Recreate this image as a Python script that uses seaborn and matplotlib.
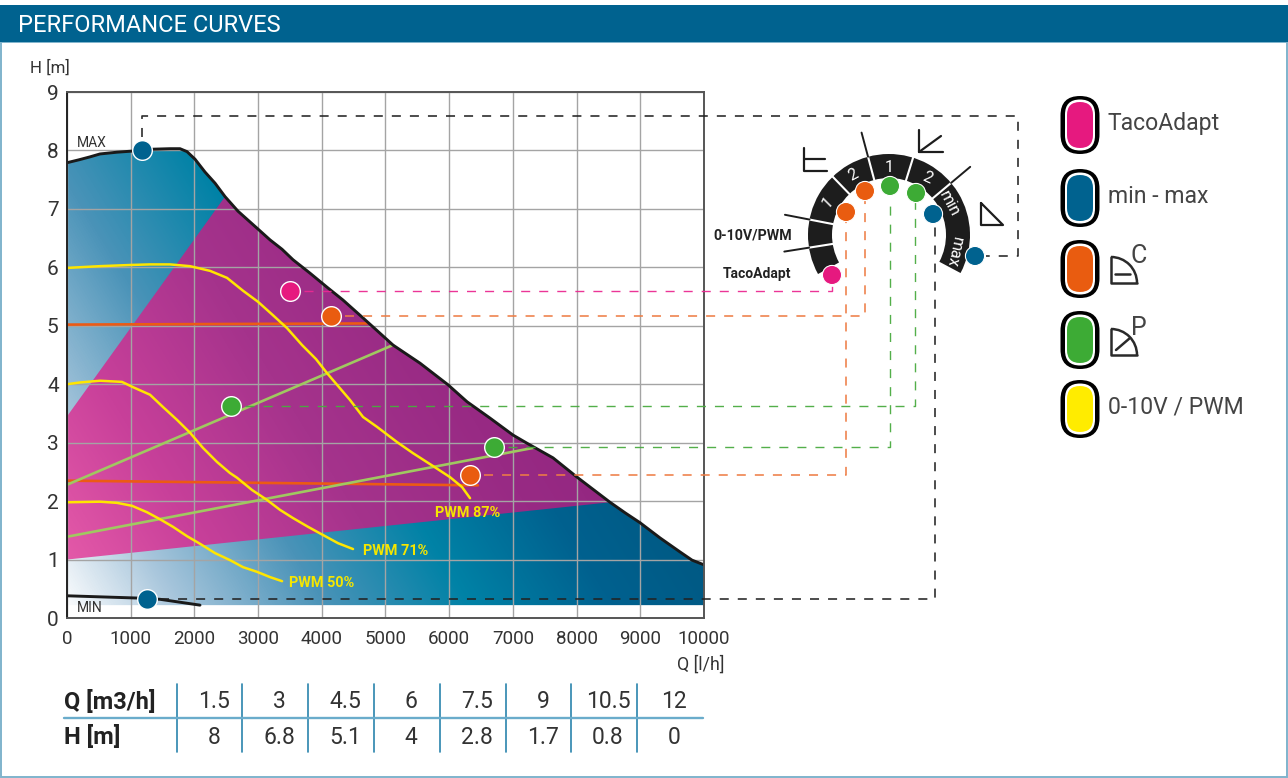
import numpy as np
import matplotlib
matplotlib.use("Agg")
import matplotlib.pyplot as plt
import seaborn as sns
from matplotlib.colors import LinearSegmentedColormap
from matplotlib.patches import FancyBboxPatch, PathPatch, Rectangle, Wedge, Arc
from matplotlib.path import Path

# -------- DATA --------
max_q = [0, 188, 361, 518, 785, 1036, 1300, 1617, 1774, 1884, 2010, 2167, 2324, 2481, 2685, 2983, 3187, 3375, 3548, 3815,
         4082, 4333, 4600, 4804, 5118, 5542, 5982, 6280, 6641, 7002, 7222, 7630, 8007, 8525, 8761, 8996, 9310, 9624, 9812, 10000]
max_h = [7.79, 7.84, 7.89, 7.94, 7.97, 7.99, 8.02, 8.03, 8.03, 7.98, 7.85, 7.63, 7.44, 7.21, 6.96, 6.67, 6.47, 6.31, 6.13, 5.90,
         5.66, 5.44, 5.18, 4.98, 4.67, 4.36, 3.99, 3.70, 3.42, 3.13, 2.99, 2.74, 2.41, 1.98, 1.80, 1.63, 1.37, 1.13, 0.99, 0.91]
min_q = [0, 1146, 1460, 2088]
min_h = [0.38, 0.34, 0.32, 0.22]
floor_h = 0.22

pwm87_q = [0, 518, 989, 1300, 1617, 1931, 2245, 2512, 2763, 2999, 3234, 3454, 3690, 3909, 4082, 4443, 4647, 4867, 5181, 5432, 5746, 6013, 6202, 6327]
pwm87_h = [5.99, 6.02, 6.04, 6.05, 6.05, 6.02, 5.94, 5.82, 5.60, 5.41, 5.18, 4.96, 4.67, 4.43, 4.19, 3.73, 3.44, 3.27, 3.01, 2.82, 2.60, 2.41, 2.24, 2.05]
pwm71_q = [0, 204, 518, 863, 1036, 1303, 1507, 1727, 1931, 2135, 2355, 2559, 2669, 2905, 3140, 3344, 3548, 3784, 4019, 4255, 4490]
pwm71_h = [4.00, 4.03, 4.06, 4.04, 3.95, 3.82, 3.61, 3.39, 3.17, 2.91, 2.67, 2.48, 2.40, 2.19, 2.02, 1.85, 1.71, 1.56, 1.42, 1.28, 1.18]
pwm50_q = [0, 518, 785, 1020, 1256, 1460, 1664, 1884, 2088, 2324, 2559, 2763, 2983, 3187, 3376]
pwm50_h = [1.98, 1.99, 1.97, 1.92, 1.81, 1.69, 1.56, 1.40, 1.27, 1.11, 0.99, 0.87, 0.79, 0.70, 0.63]

orange_lines = [([0, 4710], [5.02, 5.04]), ([0, 6450], [2.35, 2.27])]
green_lines = [([0, 5118], [2.28, 4.67]), ([0, 7316], [1.39, 2.91])]

pink_q = [3500]
pink_h = [5.6]
orange_q = [4150, 6330]
orange_h = [5.17, 2.45]
green_q = [2570, 6700]
green_h = [3.63, 2.93]
blue_q = [1180, 1260]
blue_h = [8.0, 0.33]

x_ticks = [0, 1000, 2000, 3000, 4000, 5000, 6000, 7000, 8000, 9000, 10000]
y_ticks = [0, 1, 2, 3, 4, 5, 6, 7, 8, 9]

table_q = ["1.5", "3", "4.5", "6", "7.5", "9", "10.5", "12"]
table_h = ["8", "6.8", "5.1", "4", "2.8", "1.7", "0.8", "0"]

legend_names = ["TacoAdapt", "min - max", "", "", "0-10V / PWM"]
legend_colors = ["#e6197f", "#00628f", "#e95c10", "#3dab35", "#ffec00"]

# -------- SETUP --------
sns.set_theme(style="white")
plt.rcParams['font.family'] = ['Roboto', 'DejaVu Sans']
plt.rcParams['lines.scale_dashes'] = False

TXT = "#333333"
YELLOW = "#ffe600"
ORANGE = "#ec5a14"
LINE_GREEN = "#a0c860"

fig = plt.figure(figsize=(12.88, 7.78), dpi=100, facecolor="white")
ax = fig.add_axes([67 / 1288, (778 - 618) / 778, 637 / 1288, 526 / 778])
ov = fig.add_axes([0, 0, 1, 1], zorder=5)
ov.set_xlim(0, 1288)
ov.set_ylim(778, 0)
ov.axis("off")

ax.set_xlim(0, 10000)
ax.set_ylim(0, 9)

# -------- GRADIENT AREAS --------
xs, ys = np.meshgrid(np.linspace(0, 637, 640), np.linspace(0, 526, 530))
grad = xs * 0.85 + ys * 0.52


def stops(pairs):
    return LinearSegmentedColormap.from_list("g", [(a / 560, c) for a, c in pairs])


blue_cmap = stops([(0, "#ffffff"), (100, "#a8c6dc"), (226, "#4a93b8"), (350, "#0082a6"), (470, "#00618f"), (560, "#005a85")])
pink_cmap = stops([(0, "#ea5fac"), (150, "#c8409a"), (300, "#a5338c"), (450, "#982a84"), (560, "#922680")])

blue_verts = list(zip(max_q, max_h)) + [(10000, floor_h), (0, floor_h)]
top_part = [(q, h) for q, h in zip(max_q, max_h) if 2481 <= q <= 8525]
pink_verts = [(0, 3.45)] + top_part + [(0, 1.0)]

for verts, cmap in [(blue_verts, blue_cmap), (pink_verts, pink_cmap)]:
    im = ax.imshow(grad, cmap=cmap, vmin=0, vmax=560, extent=(0, 10000, 0, 9), origin="lower", aspect="auto", zorder=1)
    clip = PathPatch(Path(verts + [verts[0]]), transform=ax.transData, fc="none", ec="none")
    im.set_clip_path(clip)

ax.set_xlim(0, 10000)
ax.set_ylim(0, 9)
ax.set_xticks(x_ticks)
ax.set_yticks(y_ticks)
ax.set_axisbelow(False)
ax.grid(True, color="#a4a4a4", lw=1.0)
ax.tick_params(length=0, labelsize=13.5, labelcolor=TXT, pad=9)
ax.tick_params(axis="y", pad=6, labelsize=15)
for side, sp in ax.spines.items():
    sp.set_color("#222222" if side == "left" else "#555555")
    sp.set_linewidth(1.4)
    sp.set_zorder(4)

# -------- CURVES --------
for qs, hs in orange_lines:
    sns.lineplot(x=qs, y=hs, ax=ax, color=ORANGE, lw=1.9, estimator=None, sort=False, legend=False, zorder=3)
for qs, hs in green_lines:
    sns.lineplot(x=qs, y=hs, ax=ax, color=LINE_GREEN, lw=1.9, estimator=None, sort=False, legend=False, zorder=3)
for qs, hs in [(pwm87_q, pwm87_h), (pwm71_q, pwm71_h), (pwm50_q, pwm50_h)]:
    sns.lineplot(x=qs, y=hs, ax=ax, color=YELLOW, lw=1.8, estimator=None, sort=False, legend=False, zorder=3.2)
sns.lineplot(x=max_q, y=max_h, ax=ax, color="#1a1a1a", lw=2.1, estimator=None, sort=False, legend=False, zorder=3.4)
sns.lineplot(x=min_q, y=min_h, ax=ax, color="#1a1a1a", lw=2.1, estimator=None, sort=False, legend=False, zorder=3.4)

for qs, hs, col in [(pink_q, pink_h, "#e6197f"), (orange_q, orange_h, "#e95c10"), (green_q, green_h, "#3dab35"), (blue_q, blue_h, "#00628f")]:
    sns.scatterplot(x=qs, y=hs, ax=ax, color=col, s=200, edgecolor="white", linewidth=1.0, zorder=4, legend=False, clip_on=False)

ax.set_xlim(0, 10000)
ax.set_ylim(0, 9)
ax.set_xlabel("")
ax.set_ylabel("")

ax.text(160, 8.13, "MAX", fontsize=10, color=TXT, va="center", zorder=4)
ax.text(160, 0.17, "MIN", fontsize=10, color=TXT, va="center", zorder=4)
for q, h, s in [(6296, 1.80, "PWM 87%"), (5166, 1.15, "PWM 71%"), (4003, 0.60, "PWM 50%")]:
    ax.text(q, h, s, color="#f5e600", fontsize=10.4, fontweight="bold", ha="center", va="center", zorder=4)


# -------- LEADER LINES --------
def to_px(q, h):
    x, y = ax.transData.transform((q, h))
    return x, 778 - y


def leader(xv, yv, col, lw=1.0, alpha=0.95):
    ov.plot(xv, yv, color=col, lw=lw, ls=(0, (6.5, 6.5)), alpha=alpha, zorder=1, solid_capstyle="butt")


px, py = to_px(pink_q[0], pink_h[0])
leader([px + 14, 832, 832], [py, py, 284], "#ea2a92")
for i, dx in enumerate([865, 846]):
    px, py = to_px(orange_q[i], orange_h[i])
    leader([px + 14, dx, dx], [py, py, 200 + 14 * i], "#ee7d45", 1.2)
for i, dx in enumerate([915, 890]):
    px, py = to_px(green_q[i], green_h[i])
    leader([px + 14, dx, dx], [py, py, 200], "#4aab40", 1.0)
px, py = to_px(blue_q[0], blue_h[0])
leader([px, px, 1018, 1018, 986], [py - 13, 116, 116, 256, 256], "#222222", 1.2)
px, py = to_px(blue_q[1], blue_h[1])
leader([px + 13, 935, 935], [py, py, 222], "#222222", 1.2)

# -------- HEADER, FRAME, AXIS TITLES --------
ov.add_patch(Rectangle((1, 42), 1286, 735, fc="none", ec="#7fb3cc", lw=1.4, zorder=0))
ov.add_patch(Rectangle((0, 5), 1288, 37, fc="#00628f", ec="none", zorder=1))
ov.text(18, 25, "PERFORMANCE CURVES", color="white", fontsize=17, va="center", ha="left", zorder=2)
ov.text(30, 68, "H [m]", color=TXT, fontsize=12.2, va="center", ha="left")
ov.text(725, 665, "Q [l/h]", color=TXT, fontsize=12.8, va="center", ha="right")

# -------- TABLE --------
grid_x = [177, 242, 308, 374, 440, 506, 571, 637]
for gx in grid_x:
    ov.plot([gx, gx], [684, 752], color="#2a84ad", lw=1.2, zorder=2)
ov.plot([64, 703], [718, 718], color="#6aaccb", lw=1.7, zorder=2)
ov.text(64, 702, "Q [m3/h]", color="#222222", fontsize=17, fontweight="bold", va="center")
ov.text(64, 737, "H [m]", color="#222222", fontsize=17, fontweight="bold", va="center")
for gx, qv, hv in zip(grid_x, table_q, table_h):
    ov.text(gx + 37, 702, qv, color=TXT, fontsize=16.5, ha="center", va="center")
    ov.text(gx + 37, 737, hv, color=TXT, fontsize=16.5, ha="center", va="center")

# -------- DIAL --------
cx, cy = 889, 235
ov.add_patch(Wedge((cx, cy), 81, -208.8, 28, width=24, fc="#1d1d1d", ec="none", zorder=2))
for a in [169, 189, 134, 105, 72.7, 40]:
    r = np.radians(a)
    ov.plot([cx + 57 * np.cos(r), cx + 81.5 * np.cos(r)], [cy - 57 * np.sin(r), cy - 81.5 * np.sin(r)],
            color="white", lw=1.5, zorder=3)
for a in [169, 189, 105, 40]:
    r = np.radians(a)
    ov.plot([cx + 81 * np.cos(r), cx + 106 * np.cos(r)], [cy - 81 * np.sin(r), cy - 106 * np.sin(r)],
            color="#1d1d1d", lw=1.4, zorder=3)
for x, y, s, rot in [(828, 203, "1", 45), (853, 175, "2", 28), (889, 167, "1", 0), (927, 178, "2", -25),
                     (949, 204, "min", -62), (954, 252, "max", -102)]:
    ov.text(x, y, s, color="white", fontsize=11.5, ha="center", va="center", rotation=rot, zorder=4)
ov.text(753, 235, "0-10V/PWM", color="#222222", fontsize=10.3, fontweight="bold", ha="center", va="center")
ov.text(757, 274, "TacoAdapt", color="#222222", fontsize=10, fontweight="bold", ha="center", va="center")

dial_x = [832, 846, 865, 890, 916, 933, 975]
dial_y = [275, 212, 191, 186, 193, 214, 256]
dial_c = ["#e6197f", "#e95c10", "#e95c10", "#3dab35", "#3dab35", "#00628f", "#00628f"]
ov.scatter(dial_x, dial_y, s=190, c=dial_c, edgecolors="white", linewidths=0.8, zorder=5)

# small mode symbols around the dial
sym = dict(color="#1d1d1d", lw=1.6, zorder=3)
ov.plot([804, 804, 827], [148, 171, 171], **sym)
ov.plot([804, 825], [159, 159], **sym)
ov.plot([919, 919, 943], [130, 152, 152], **sym)
ov.plot([919, 941], [152, 136], **sym)
ov.plot([981, 981, 1003, 981], [203, 225, 225, 203], **sym)

# -------- LEGEND --------
leg_y = [125, 198, 269, 340, 409]
for y, col, name in zip(leg_y, legend_colors, legend_names):
    for w, h, fc in [(39, 58, "black"), (30, 51, "white"), (26, 46, col)]:
        ov.add_patch(FancyBboxPatch((1080 - w / 2, y - h / 2), w, h, boxstyle=f"round,pad=0,rounding_size={w / 2}",
                                    fc=fc, ec="none", zorder=3))
    if name:
        ov.text(1108, y - 2, name, color="#444444", fontsize=16.6, va="center", ha="left")

icon = dict(color="#2a2a2a", lw=1.8, zorder=3)
for top, letter in [(257, "C"), (329, "P")]:
    bot = top + 26
    ov.plot([1111, 1111, 1137], [top, bot, bot], **icon)
    ov.add_patch(Arc((1111, bot), 52, 52, theta1=-90, theta2=0, ec="#2a2a2a", lw=1.8, zorder=3))
    if letter == "C":
        ov.plot([1115, 1130], [bot - 9, bot - 9], **icon)
    else:
        ov.plot([1116, 1130], [bot - 5, bot - 17], **icon)
    ov.text(1139, top - 1, letter, color="#444444", fontsize=18, va="center", ha="center")

fig.savefig("out.png", dpi=100, facecolor="white")
